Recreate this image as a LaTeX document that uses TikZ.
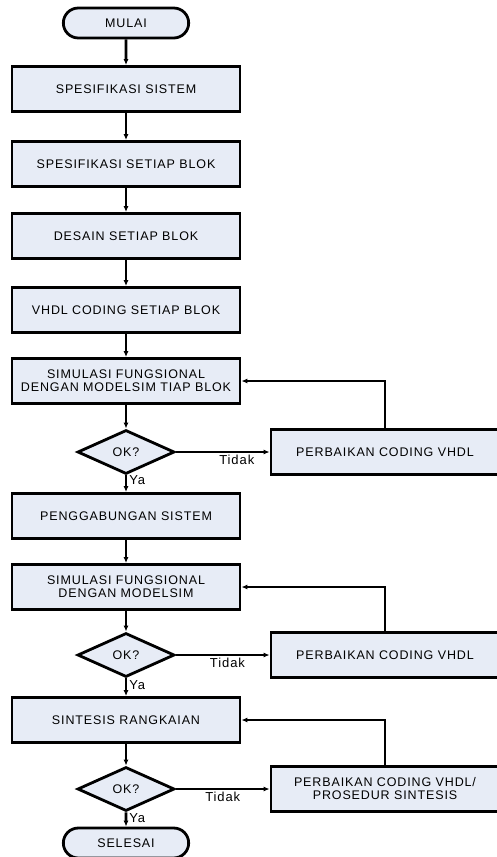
\documentclass[tikz,border=0pt]{standalone}
\usepackage{fontspec}
\setmainfont{Liberation Sans}[LetterSpace=7]
\usetikzlibrary{shapes.misc,shapes.geometric,arrows.meta}
\definecolor{isian}{RGB}{231,236,246}
\tikzset{
  blok/.style={rectangle, draw, fill=isian, line width=2.8pt, minimum width=228pt, minimum height=45pt, align=center, inner sep=2pt, font=\fontsize{12.5}{13}\selectfont},
  terminal/.style={rounded rectangle, draw, fill=isian, line width=2.8pt, minimum width=132pt, minimum height=30pt, font=\fontsize{12.5}{13}\selectfont},
  cek/.style={diamond, draw, fill=isian, line width=2.8pt, minimum width=97pt, minimum height=44pt, inner sep=0pt, font=\fontsize{12.5}{13}\selectfont},
  panah/.style={line width=2.6pt, -{Latex[length=6pt,width=5pt]}},
  ket/.style={font=\fontsize{13}{14}\selectfont, inner sep=2pt}
}
\begin{document}
\begin{tikzpicture}[x=1pt, y=-1pt]
\useasboundingbox (0,0) rectangle (497,857);
% Alur utama
    \node[terminal] (mulai) at (126,23) {MULAI};
    \node[blok] (spesSistem) at (126,89) {SPESIFIKASI SISTEM};
    \node[blok] (spesBlok) at (126,164) {SPESIFIKASI SETIAP BLOK};
    \node[blok] (desain) at (126,236) {DESAIN SETIAP BLOK};
    \node[blok] (coding) at (126,310) {VHDL CODING SETIAP BLOK};
    \node[blok] (simBlok) at (126,381) {SIMULASI FUNGSIONAL\\DENGAN MODELSIM TIAP BLOK};
    \node[cek] (ok1) at (126,452) {OK?};
    \node[blok] (gabung) at (126,516) {PENGGABUNGAN SISTEM};
    \node[blok] (simSistem) at (126,587) {SIMULASI FUNGSIONAL\\DENGAN MODELSIM};
    \node[cek] (ok2) at (126,655) {OK?};
    \node[blok] (sintesis) at (126,720) {SINTESIS RANGKAIAN};
    \node[cek] (ok3) at (126,789) {OK?};
    \node[terminal] (selesai) at (126,843) {SELESAI};
% Kotak perbaikan
    \node[blok] (perbaikan1) at (385,452) {PERBAIKAN CODING VHDL};
    \node[blok] (perbaikan2) at (385,655) {PERBAIKAN CODING VHDL};
    \node[blok] (perbaikan3) at (385,789) {PERBAIKAN CODING VHDL/\\PROSEDUR SINTESIS};
% Panah ke bawah
    \draw[panah] (mulai) -- (spesSistem);
    \draw[panah] (spesSistem) -- (spesBlok);
    \draw[panah] (spesBlok) -- (desain);
    \draw[panah] (desain) -- (coding);
    \draw[panah] (coding) -- (simBlok);
    \draw[panah] (simBlok) -- (ok1);
    \draw[panah] (ok1) -- node[ket, right, pos=0.3] (ya1) {Ya} (gabung);
    \draw[panah] (gabung) -- (simSistem);
    \draw[panah] (simSistem) -- (ok2);
    \draw[panah] (ok2) -- node[ket, right, pos=0.35] (ya2) {Ya} (sintesis);
    \draw[panah] (sintesis) -- (ok3);
    \draw[panah] (ok3) -- node[ket, right, pos=0.4] (ya3) {Ya} (selesai);
% Cabang tidak
    \draw[panah] (ok1) -- node[ket, below, pos=0.65] (tidak1) {Tidak} (perbaikan1);
    \draw[panah] (ok2) -- node[ket, below, pos=0.55] (tidak2) {Tidak} (perbaikan2);
    \draw[panah] (ok3) -- node[ket, below, pos=0.5] (tidak3) {Tidak} (perbaikan3);
% Umpan balik
    \draw[panah] (perbaikan1.north) |- (simBlok.east);
    \draw[panah] (perbaikan2.north) |- (simSistem.east);
    \draw[panah] (perbaikan3.north) |- (sintesis.east);
\end{tikzpicture}
\end{document}
